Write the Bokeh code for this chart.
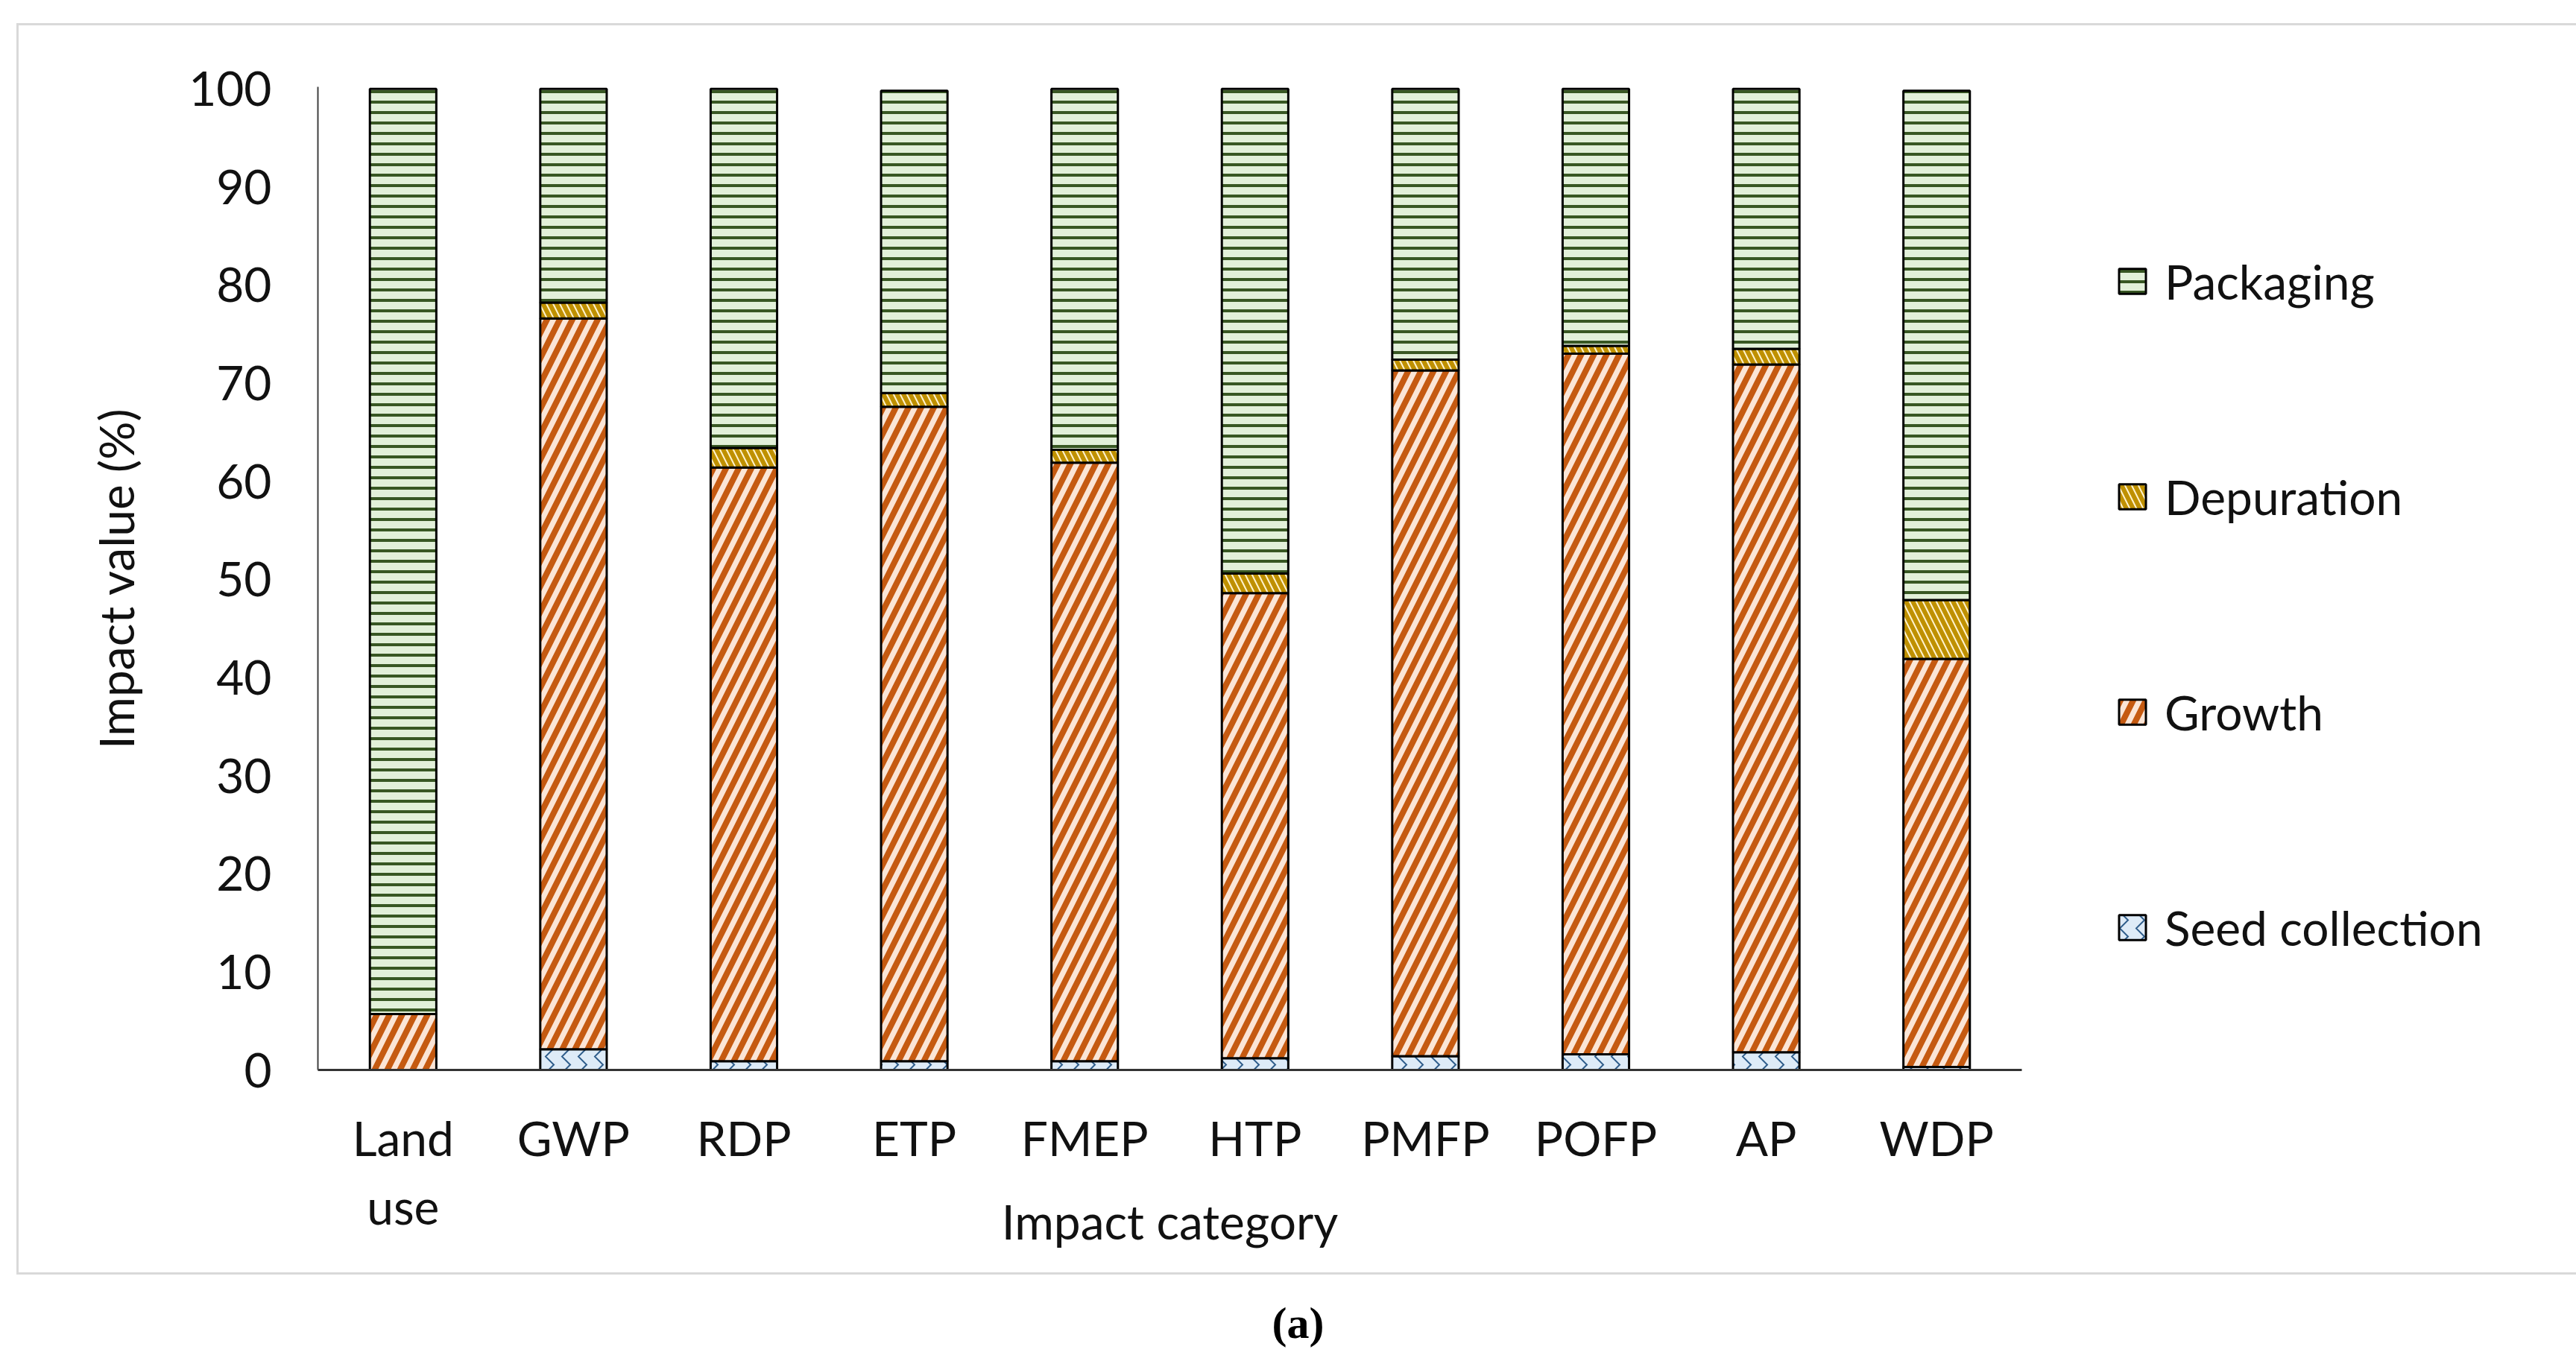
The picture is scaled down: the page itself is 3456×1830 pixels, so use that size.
from bokeh.plotting import figure
from bokeh.layouts import column
from bokeh.models import (FactorRange, Range1d, Legend, LegendItem, Label,
                          FixedTicker, ColumnDataSource)
from bokeh.embed import file_html
from bokeh.resources import INLINE

categories = ["Land\nuse", "GWP", "RDP", "ETP", "FMEP", "HTP", "PMFP", "POFP", "AP", "WDP"]
seed_collection = [0.0, 2.1, 0.9, 0.9, 0.9, 1.2, 1.4, 1.6, 1.8, 0.3]
growth = [5.7, 74.5, 60.5, 66.7, 61.0, 47.4, 69.9, 71.4, 70.1, 41.6]
depuration = [0.0, 1.6, 2.0, 1.4, 1.3, 2.0, 1.1, 0.8, 1.6, 6.0]
packaging = [94.3, 21.8, 36.6, 30.8, 36.8, 49.4, 27.6, 26.2, 26.5, 51.9]
y_ticks = [0, 10, 20, 30, 40, 50, 60, 70, 80, 90, 100]

series = ["seed", "growth", "depuration", "packaging"]
labels = ["Seed collection", "Growth", "Depuration", "Packaging"]
source = ColumnDataSource(data=dict(cat=categories, seed=seed_collection, growth=growth,
                                    depuration=depuration, packaging=packaging))

FONT = "Lato"
TXT = "#111111"
FRAME_W = 2286
BORDER_L = 404
BORDER_R = 726

p = figure(x_range=FactorRange(*categories), y_range=Range1d(0, 100.2),
           frame_width=FRAME_W, frame_height=1319,
           min_border_left=BORDER_L, min_border_right=BORDER_R, min_border_top=85, min_border_bottom=275,
           output_backend="svg", toolbar_location=None,
           styles={"outline": "3px solid #D9D9D9", "outline-offset": "-3px"})
p.outline_line_color = None
p.xgrid.grid_line_color = None
p.ygrid.grid_line_color = None
p.background_fill_color = None
p.border_fill_color = None

styles = [
    dict(fill_color="#DEEBF7", hatch_color="#2E5C8A", hatch_pattern="vertical_wave", hatch_scale=22, hatch_weight=2),
    dict(fill_color="#FBE5D6", hatch_color="#C55A11", hatch_pattern="right_diagonal_line", hatch_scale=34, hatch_weight=8),
    dict(fill_color="#FFF2CC", hatch_color="#BF9000", hatch_pattern="left_diagonal_line", hatch_scale=18, hatch_weight=6),
    dict(fill_color="#E2F0D9", hatch_color="#385723", hatch_pattern="horizontal_line", hatch_scale=14, hatch_weight=4),
]

renderers = p.vbar_stack(series, x="cat", width=0.39, source=source,
                         line_color="black", line_width=3,
                         fill_color=[s["fill_color"] for s in styles],
                         hatch_color=[s["hatch_color"] for s in styles],
                         hatch_pattern=[s["hatch_pattern"] for s in styles],
                         hatch_scale=[s["hatch_scale"] for s in styles],
                         hatch_weight=[s["hatch_weight"] for s in styles])

# axes
p.yaxis.ticker = FixedTicker(ticks=y_ticks)
p.yaxis.axis_label = "Impact value (%)"
p.xaxis.axis_label = "Impact category"
for ax in (p.xaxis[0], p.yaxis[0]):
    ax.major_tick_line_color = None
    ax.minor_tick_line_color = None
    ax.major_label_text_font = FONT
    ax.major_label_text_font_size = "64px"
    ax.major_label_text_color = TXT
    ax.axis_label_text_font = FONT
    ax.axis_label_text_font_size = "64px"
    ax.axis_label_text_font_style = "normal"
    ax.axis_label_text_color = TXT
p.yaxis.axis_line_color = "#404040"
p.yaxis.axis_line_width = 2
p.xaxis.axis_line_color = "#333333"
p.xaxis.axis_line_width = 3
p.yaxis.major_label_standoff = 56
p.yaxis.axis_label_standoff = 56
p.xaxis.major_label_standoff = 46
p.xaxis.major_label_text_line_height = 1.2
p.xaxis.axis_label_standoff = -60

# legend in the right side panel
items = [LegendItem(label=labels[i], renderers=[renderers[i]]) for i in (3, 2, 1, 0)]
legend = Legend(items=items, location=(126, 151), orientation="vertical",
                glyph_width=45, glyph_height=42, label_height=80, label_standoff=21,
                spacing=209, padding=0, margin=0,
                label_text_font=FONT, label_text_font_size="64px", label_text_color=TXT,
                border_line_alpha=0, background_fill_alpha=0)
p.add_layout(legend, "right")

# caption below the bordered chart (frame aligned with the chart's frame)
cap = figure(frame_width=FRAME_W, height=100, x_axis_type=None, y_axis_type=None,
             min_border_left=BORDER_L, min_border_right=BORDER_R,
             min_border_top=0, min_border_bottom=0,
             output_backend="svg", toolbar_location=None)
cap.outline_line_color = None
cap.xgrid.grid_line_color = None
cap.ygrid.grid_line_color = None
cap.background_fill_color = None
cap.border_fill_color = None
cap.add_layout(Label(x=1315, y=36, x_units="screen", y_units="screen", text="(a)",
                     text_align="center", text_baseline="middle",
                     text_font="Liberation Serif", text_font_style="bold",
                     text_font_size="60px", text_color="black"))

layout = column(p, cap, spacing=0, margin=(31, 0, 0, 22))
open("out.html", "w").write(file_html(layout, INLINE))
